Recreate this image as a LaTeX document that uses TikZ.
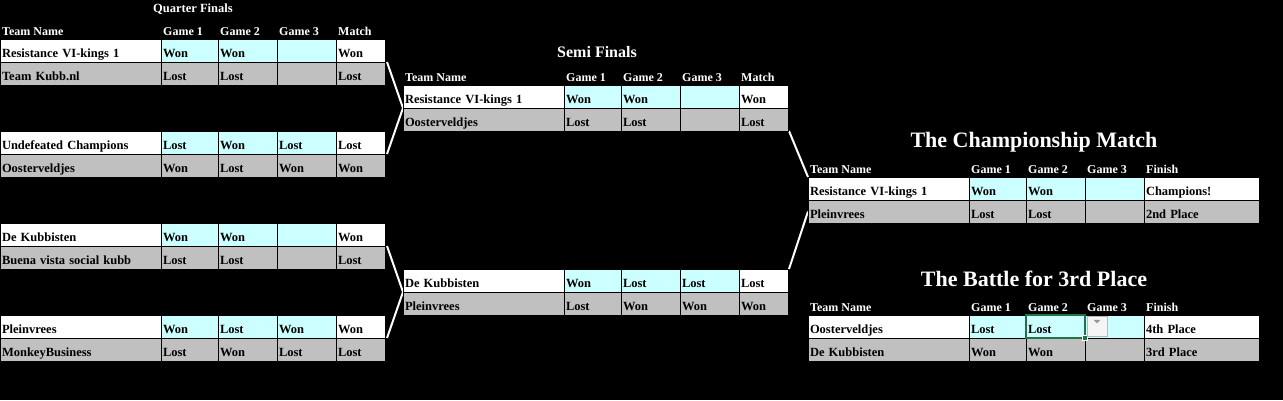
\documentclass[tikz,border=0pt]{standalone}
\usepackage{fontspec}
\setmainfont{Liberation Serif}
\usepackage{tikz}
\usetikzlibrary{positioning, calc, backgrounds}
\definecolor{tcyan}{HTML}{CCFFFF}
\definecolor{tgrey}{HTML}{C0C0C0}
\definecolor{xlgreen}{HTML}{217346}

\begin{document}
\begin{tikzpicture}[
    x=1pt, y=-1pt,
    cell/.style={rectangle, draw=black, line width=1pt, inner xsep=2pt, inner ysep=0pt, outer sep=0pt,
      minimum height=23pt, text height=15pt, text depth=2pt, align=left,
      font=\bfseries\fontsize{12.5}{14}\selectfont},
    head/.style={anchor=base west, inner sep=0pt, text=white,
      font=\bfseries\fontsize{12}{14}\selectfont},
    title/.style={anchor=base, inner sep=0pt, text=white, font=\bfseries},
    link/.style={draw=white, line width=2pt},
    selbox/.style={draw=xlgreen, line width=2pt},
    handle/.style={rectangle, fill=xlgreen, draw=white, line width=0.6pt, minimum size=5pt, inner sep=0pt},
    ddbtn/.style={rectangle, anchor=north west, fill=gray!8, draw=gray!55, line width=0.8pt,
      minimum width=20pt, minimum height=20pt, inner sep=0pt}
  ]
  \useasboundingbox (0,0) rectangle (1283,400);

  % titles
  \node[title, font=\bfseries\fontsize{12.5}{14}\selectfont] (qf-t) at (193,12) {Quarter Finals};
  \node[title, font=\bfseries\fontsize{16}{18}\selectfont] (sf-t) at (597,57) {Semi Finals};
  \node[title, font=\bfseries\fontsize{22}{24}\selectfont] (fin-t) at (1034,147) {The Championship Match};
  \node[title, font=\bfseries\fontsize{22}{24}\selectfont] (trd-t) at (1034,286) {The Battle for 3rd Place};

  % header rows
  \foreach \h/\x/\y/\last in {qh/0/39/Match, sh/403/85/Match, fh/808/177/Finish, th/808/315/Finish}{
    \node[head] (\h-n) at (\x+2,\y-4) {Team Name};
    \node[head] (\h-a) at (\x+163,\y-4) {Game 1};
    \node[head] (\h-b) at (\x+220,\y-4) {Game 2};
    \node[head] (\h-c) at (\x+279,\y-4) {Game 3};
    \node[head] (\h-m) at (\x+338,\y-4) {\last};
  }

  % result rows
  \foreach \r/\x/\y/\nf/\gf/\team/\ga/\gb/\gc/\res/\w in {
    q1t/0/39/white/tcyan/Resistance VI-kings 1/Won/Won//Won/45,
    q1b/0/62/tgrey/tgrey/Team Kubb.nl/Lost/Lost//Lost/45,
    q2t/0/131/white/tcyan/Undefeated Champions/Lost/Won/Lost/Lost/45,
    q2b/0/154/tgrey/tgrey/Oosterveldjes/Won/Lost/Won/Won/45,
    q3t/0/223/white/tcyan/De Kubbisten/Won/Won//Won/45,
    q3b/0/246/tgrey/tgrey/Buena vista social kubb/Lost/Lost//Lost/45,
    q4t/0/315/white/tcyan/Pleinvrees/Won/Lost/Won/Won/45,
    q4b/0/338/tgrey/tgrey/MonkeyBusiness/Lost/Won/Lost/Lost/45,
    s1t/403/85/white/tcyan/Resistance VI-kings 1/Won/Won//Won/45,
    s1b/403/108/tgrey/tgrey/Oosterveldjes/Lost/Lost//Lost/45,
    s2t/403/269/white/tcyan/De Kubbisten/Won/Lost/Lost/Lost/45,
    s2b/403/292/tgrey/tgrey/Pleinvrees/Lost/Won/Won/Won/45,
    ft/808/177/white/tcyan/Resistance VI-kings 1/Won/Won//Champions!/111,
    fb/808/200/tgrey/tgrey/Pleinvrees/Lost/Lost//2nd Place/111,
    tt/808/315/white/tcyan/Oosterveldjes/Lost/Lost//4th Place/111,
    tb/808/338/tgrey/tgrey/De Kubbisten/Won/Won//3rd Place/111}{
    \node[cell, fill=\nf, text width=157pt, anchor=north west] (\r-n) at (\x,\y) {\team};
    \node[cell, fill=\gf, text width=53pt, right=0pt of \r-n] (\r-a) {\ga};
    \node[cell, fill=\gf, text width=55pt, right=0pt of \r-a] (\r-b) {\gb};
    \node[cell, fill=\gf, text width=55pt, right=0pt of \r-b] (\r-c) {\gc};
    \node[cell, fill=\nf, text width=\w pt, right=0pt of \r-c] (\r-m) {\res};
  }

  % selected cell and its drop-down
  \draw[selbox] (tt-b.north west) rectangle (tt-b.south east);
  \node[handle] (sel-h) at (tt-b.south east) {};
  \node[ddbtn] (dd) at ([xshift=1.5pt,yshift=-1pt]tt-b.north east) {};
  \fill[gray!80] ([shift={(-3.5,-6.5)}]dd.center) -- ([shift={(3.5,-6.5)}]dd.center)
    -- ([shift={(0,-3)}]dd.center) -- cycle;

  % bracket lines
  \begin{scope}[on background layer]
    \fill[black] (0,0) rectangle (1283,400);
    \draw[link] ([xshift=2pt]q1b-m.north east) -- (s1t-n.south west) -- ([xshift=2pt]q2b-m.north east);
    \draw[link] ([xshift=2pt]q3b-m.north east) -- (s2t-n.south west) -- ([xshift=2pt]q4b-m.north east);
    \draw[link] ([xshift=1pt]s1b-m.south east) -- (ft-n.north west);
    \draw[link] ([xshift=1pt]s2t-m.north east) -- (fb-n.west);
  \end{scope}
\end{tikzpicture}
\end{document}
